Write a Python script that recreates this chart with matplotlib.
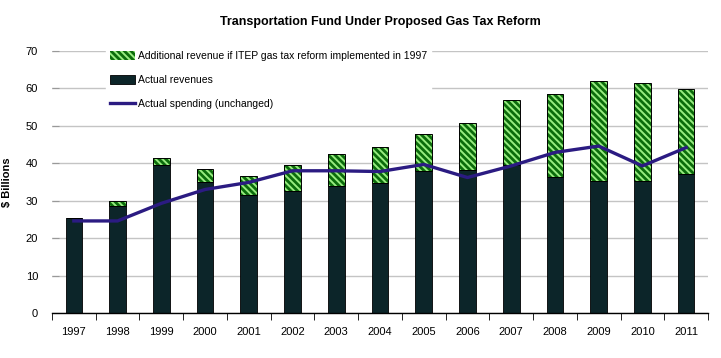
import numpy as np
import matplotlib
matplotlib.use("Agg")
import matplotlib.pyplot as plt
from matplotlib.patches import Patch
from matplotlib.lines import Line2D

plt.rcParams['font.family'] = ['Liberation Sans Narrow', 'Liberation Sans', 'DejaVu Sans']
plt.rcParams['hatch.linewidth'] = 2.0

years = ['1997', '1998', '1999', '2000', '2001', '2002', '2003', '2004',
         '2005', '2006', '2007', '2008', '2009', '2010', '2011']
actual_rev = [25.3, 28.7, 39.5, 35.0, 31.5, 32.7, 33.8, 34.7,
              38.0, 38.2, 39.5, 36.4, 35.3, 35.3, 37.1]
total_rev = [25.3, 30.0, 41.3, 38.6, 36.5, 39.6, 42.6, 44.3,
             47.8, 50.8, 56.8, 58.4, 62.1, 61.4, 59.8]
spending = [24.6, 24.6, 29.3, 33.0, 34.9, 38.0, 38.0, 37.8,
            39.7, 36.2, 39.3, 42.9, 44.6, 39.3, 44.2]

additional = np.array(total_rev) - np.array(actual_rev)

dark = '#0c2529'
green_dark = '#0b6c0b'
green_light = '#98ec80'
line_col = '#2b1b82'
hatch = '\\' * 5

fig = plt.figure(figsize=(7.21, 3.58), dpi=100)
ax = fig.add_axes([0.0721, 0.1257, 0.9099, 0.7318])

x = np.arange(len(years))
w = 0.38
ax.bar(x, actual_rev, w, color=dark, edgecolor='black', linewidth=0.6, zorder=2)
ax.bar(x, additional, w, bottom=actual_rev, color=green_light, edgecolor=green_dark,
       hatch=hatch, linewidth=0, zorder=2)
ax.bar(x, additional, w, bottom=actual_rev, fill=False, edgecolor='black',
       linewidth=0.7, zorder=2)
ax.plot(x, spending, color=line_col, linewidth=2.4, zorder=3)

ax.set_xlim(-0.5, len(years) - 0.5)
ax.set_ylim(0, 70)
ax.set_yticks(np.arange(0, 71, 10))
ax.set_xticks(x)
ax.set_xticklabels(years)
ax.set_xticks(np.arange(-0.5, len(years), 1), minor=True)
ax.tick_params(axis='x', which='major', length=0, pad=10, labelsize=8)
ax.tick_params(axis='x', which='minor', length=5, direction='out', color='black')
ax.tick_params(axis='y', length=5, direction='in', color='#999999', pad=10, labelsize=8)
ax.grid(axis='y', color='#c4c4c4', linewidth=1, zorder=0)
ax.set_axisbelow(True)
for s in ['left', 'right', 'top']:
    ax.spines[s].set_visible(False)
ax.spines['bottom'].set_color('black')
ax.spines['bottom'].set_linewidth(1)

ax.set_ylabel('$ Billions', fontsize=8, fontweight='bold', labelpad=10)
ax.set_title('Transportation Fund Under Proposed Gas Tax Reform',
             fontsize=9, fontweight='bold', pad=19)

handles = [
    Patch(facecolor=green_light, edgecolor=green_dark, hatch=hatch, linewidth=0),
    Patch(facecolor=dark, edgecolor='black', linewidth=0.6),
    Line2D([0], [0], color=line_col, linewidth=2.4),
]
labels = ['Additional revenue if ITEP gas tax reform implemented in 1997',
          'Actual revenues', 'Actual spending (unchanged)']
leg = ax.legend(handles, labels, loc='upper left', bbox_to_anchor=(0.074, 1.035),
                frameon=True, fontsize=7.5, handlelength=2.4, handleheight=0.9,
                handletextpad=0.3, labelspacing=1.35, borderpad=0.4,
                fancybox=False)
leg.get_frame().set_edgecolor('white')
leg.get_frame().set_facecolor('white')
leg.get_frame().set_alpha(1)

fig.savefig('out.png', dpi=100)
